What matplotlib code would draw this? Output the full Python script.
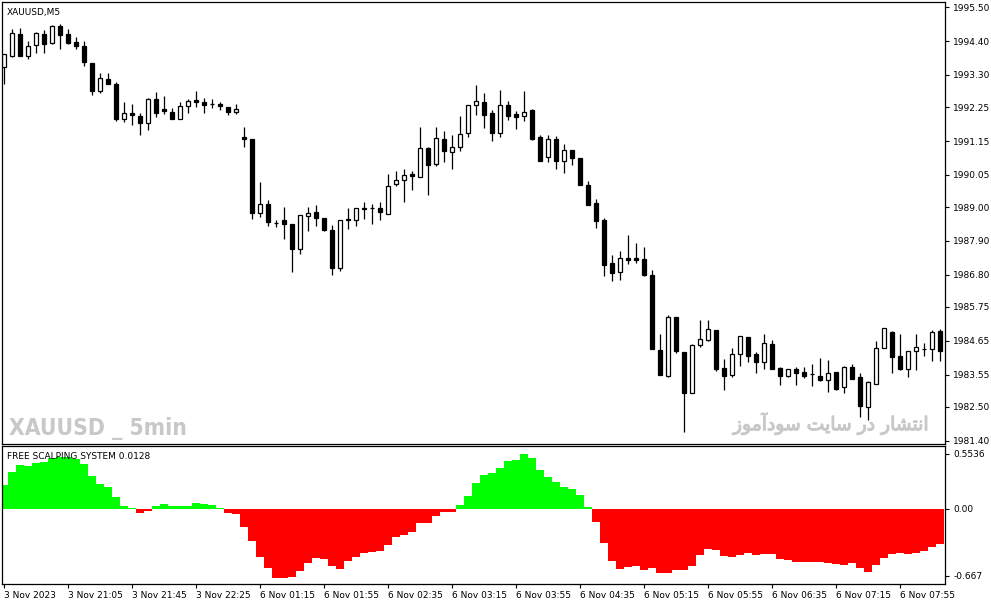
import matplotlib
matplotlib.use("Agg")
import matplotlib.pyplot as plt
import matplotlib.patheffects as pe
import numpy as np

# XAUUSD M5 candles (open, high, low, close)
opens = [1993.56, 1993.92, 1994.63, 1993.92, 1994.27, 1994.63, 1994.34, 1994.89, 1994.63, 1994.37,
         1994.24, 1993.69, 1992.78, 1993.17, 1993.00, 1991.87, 1992.06, 1991.96, 1991.74, 1992.52,
         1992.19, 1992.09, 1991.87, 1992.29, 1992.48, 1992.42, 1992.35, 1992.35, 1992.26, 1992.09,
         1991.28, 1991.22, 1988.81, 1989.10, 1988.48, 1988.58, 1988.45, 1987.64, 1988.71, 1988.84,
         1988.65, 1988.26, 1987.02, 1988.61, 1988.58, 1988.97, 1988.97, 1988.97, 1988.78, 1989.75,
         1989.88, 1990.08, 1989.98, 1990.92, 1990.40, 1991.22, 1990.79, 1990.96, 1991.41, 1992.32,
         1992.42, 1992.06, 1991.41, 1992.32, 1992.03, 1991.96, 1992.16, 1991.28, 1990.63, 1991.22,
         1990.50, 1990.86, 1990.60, 1989.72, 1989.13, 1988.58, 1987.18, 1986.89, 1987.34, 1987.34,
         1987.31, 1986.79, 1984.35, 1983.51, 1985.43, 1984.29, 1982.95, 1984.51, 1984.68, 1985.00,
         1983.77, 1983.54, 1984.22, 1984.77, 1984.22, 1983.96, 1984.55, 1983.77, 1983.51, 1983.73,
         1983.64, 1983.57, 1983.51, 1983.38, 1983.64, 1983.15, 1983.80, 1983.47, 1982.50, 1983.25,
         1984.42, 1984.94, 1984.16, 1983.73, 1984.32, 1984.38, 1984.38, 1984.97]
highs = [1993.98, 1994.79, 1994.83, 1994.40, 1994.70, 1994.76, 1994.92, 1994.96, 1994.79, 1994.53,
         1994.40, 1993.69, 1993.36, 1993.36, 1993.07, 1992.42, 1992.35, 1992.06, 1992.55, 1992.74,
         1992.61, 1992.22, 1992.42, 1992.52, 1992.78, 1992.55, 1992.52, 1992.42, 1992.26, 1992.35,
         1991.61, 1991.22, 1989.82, 1989.23, 1988.58, 1989.00, 1988.45, 1988.74, 1989.00, 1989.07,
         1988.65, 1988.42, 1988.58, 1988.97, 1988.97, 1989.17, 1989.10, 1989.17, 1990.08, 1990.17,
         1990.24, 1990.17, 1991.61, 1990.96, 1991.61, 1991.48, 1991.35, 1991.96, 1992.32, 1992.97,
         1992.71, 1992.16, 1992.81, 1992.45, 1992.13, 1992.78, 1992.19, 1991.35, 1991.35, 1991.31,
         1991.05, 1990.86, 1990.60, 1989.85, 1989.26, 1988.65, 1987.44, 1987.57, 1988.09, 1987.83,
         1987.70, 1986.95, 1984.87, 1985.49, 1985.43, 1984.29, 1984.55, 1985.33, 1985.33, 1985.00,
         1984.06, 1984.42, 1984.81, 1984.77, 1984.29, 1984.87, 1984.68, 1983.80, 1983.73, 1983.80,
         1983.80, 1983.90, 1984.09, 1984.03, 1983.64, 1983.83, 1983.90, 1983.60, 1983.34, 1984.64,
         1985.07, 1984.97, 1984.87, 1984.32, 1984.87, 1984.58, 1985.00, 1985.03]
lows = [1993.00, 1993.88, 1993.92, 1993.82, 1994.01, 1994.01, 1994.31, 1994.14, 1994.31, 1994.14,
        1993.59, 1992.65, 1992.71, 1993.00, 1991.80, 1991.77, 1991.67, 1991.35, 1991.51, 1991.93,
        1992.03, 1991.87, 1991.87, 1992.06, 1992.26, 1992.06, 1992.22, 1992.16, 1992.00, 1992.03,
        1990.96, 1988.61, 1988.68, 1988.39, 1988.35, 1987.96, 1986.89, 1987.47, 1988.22, 1988.39,
        1988.22, 1986.79, 1986.92, 1988.29, 1988.39, 1988.61, 1988.45, 1988.58, 1988.78, 1989.69,
        1989.17, 1989.56, 1989.98, 1989.39, 1990.34, 1990.47, 1990.24, 1990.83, 1991.28, 1992.00,
        1991.57, 1991.15, 1991.28, 1991.83, 1991.54, 1991.80, 1991.18, 1990.50, 1990.47, 1990.24,
        1990.11, 1990.37, 1989.72, 1989.07, 1988.32, 1986.76, 1986.60, 1986.63, 1987.15, 1987.18,
        1986.76, 1984.38, 1983.54, 1983.47, 1984.25, 1981.68, 1982.95, 1984.45, 1984.64, 1983.67,
        1983.05, 1983.47, 1983.83, 1983.96, 1983.60, 1983.73, 1983.73, 1983.21, 1983.47, 1983.21,
        1983.44, 1983.18, 1983.34, 1982.99, 1983.05, 1982.95, 1983.41, 1982.17, 1982.07, 1983.25,
        1984.42, 1983.60, 1983.70, 1983.47, 1983.70, 1984.16, 1983.99, 1983.99]
closes = [1993.98, 1994.66, 1993.92, 1994.24, 1994.66, 1994.31, 1994.89, 1994.60, 1994.34, 1994.24,
          1993.72, 1992.78, 1993.20, 1993.00, 1991.87, 1992.06, 1992.00, 1991.74, 1992.52, 1992.06,
          1992.13, 1991.87, 1992.29, 1992.45, 1992.42, 1992.32, 1992.35, 1992.29, 1992.09, 1992.19,
          1991.22, 1988.81, 1989.10, 1988.52, 1988.48, 1988.45, 1987.64, 1988.74, 1988.81, 1988.65,
          1988.26, 1987.02, 1988.58, 1988.58, 1988.97, 1988.94, 1988.97, 1988.84, 1989.69, 1989.88,
          1990.04, 1990.01, 1990.92, 1990.37, 1991.25, 1990.83, 1990.96, 1991.38, 1992.32, 1992.45,
          1992.00, 1991.41, 1992.32, 1991.96, 1991.93, 1992.09, 1991.22, 1990.50, 1991.22, 1990.50,
          1990.86, 1990.60, 1989.72, 1989.07, 1988.55, 1987.12, 1986.86, 1987.34, 1987.28, 1987.28,
          1986.79, 1984.38, 1983.54, 1985.43, 1984.32, 1982.95, 1984.51, 1984.71, 1985.03, 1983.73,
          1983.51, 1984.22, 1984.81, 1984.16, 1983.96, 1984.58, 1983.73, 1983.51, 1983.73, 1983.60,
          1983.51, 1983.57, 1983.38, 1983.60, 1983.08, 1983.80, 1983.41, 1982.53, 1983.31, 1984.42,
          1985.07, 1984.12, 1983.73, 1984.32, 1984.45, 1984.38, 1984.94, 1984.32]

# FREE SCALPING SYSTEM histogram
fss = [0.24, 0.37, 0.44, 0.43, 0.46, 0.47, 0.51, 0.52, 0.52, 0.50,
       0.45, 0.33, 0.25, 0.22, 0.12, 0.03, 0.01, -0.037, -0.023, 0.03,
       0.05, 0.03, 0.03, 0.03, 0.06, 0.05, 0.045, 0.015, -0.037, -0.05,
       -0.177, -0.317, -0.477, -0.587, -0.687, -0.687, -0.677, -0.617, -0.537, -0.487,
       -0.497, -0.567, -0.597, -0.517, -0.477, -0.437, -0.427, -0.417, -0.357, -0.277,
       -0.257, -0.227, -0.137, -0.137, -0.067, -0.027, -0.027, 0.043, 0.13, 0.26,
       0.34, 0.36, 0.41, 0.48, 0.49, 0.55, 0.51, 0.39, 0.32, 0.27,
       0.22, 0.20, 0.14, 0.02, -0.127, -0.337, -0.517, -0.597, -0.577, -0.573,
       -0.607, -0.587, -0.637, -0.637, -0.607, -0.607, -0.567, -0.457, -0.397, -0.407,
       -0.47, -0.477, -0.46, -0.44, -0.457, -0.45, -0.45, -0.497, -0.507, -0.527,
       -0.527, -0.527, -0.527, -0.54, -0.547, -0.557, -0.537, -0.587, -0.627, -0.557,
       -0.487, -0.447, -0.437, -0.447, -0.437, -0.417, -0.377, -0.353]

time_labels = ["3 Nov 2023", "3 Nov 21:05", "3 Nov 21:45", "3 Nov 22:25", "6 Nov 01:15",
               "6 Nov 01:55", "6 Nov 02:35", "6 Nov 03:15", "6 Nov 03:55", "6 Nov 04:35",
               "6 Nov 05:15", "6 Nov 05:55", "6 Nov 06:35", "6 Nov 07:15", "6 Nov 07:55"]
price_ticks = [1995.50, 1994.40, 1993.30, 1992.25, 1991.15, 1990.05, 1989.00,
               1987.90, 1986.80, 1985.75, 1984.65, 1983.55, 1982.50, 1981.40]
ind_ticks = [0.5536, 0.0, -0.667]

opens, highs, lows, closes, fss = map(np.array, (opens, highs, lows, closes, fss))
x = np.arange(len(opens))

W, H = 991, 605
fig = plt.figure(figsize=(W / 100, H / 100), dpi=100)
left, right = 1.5 / W, 945 / W
ax = fig.add_axes([left, 1 - 444 / H, right - left, (444 - 1.5) / H])
ax2 = fig.add_axes([left, 1 - 584 / H, right - left, (584 - 446) / H])

lbl = dict(fontsize=6.5, family="DejaVu Sans", color="black")

# candles
up = closes >= opens
ax.vlines(x, lows, highs, color="black", lw=0.9, zorder=1)
ax.bar(x[up], closes[up] - opens[up], bottom=opens[up], width=0.55,
       facecolor="white", edgecolor="black", lw=0.9, zorder=2)
ax.bar(x[~up], closes[~up] - opens[~up], bottom=opens[~up], width=0.55,
       facecolor="black", edgecolor="black", lw=0.9, zorder=2)

ax.set_xlim(-0.31, 117.63)
ax.set_ylim(1981.29, 1995.69)
ax.yaxis.tick_right()
ax.set_yticks(price_ticks)
ax.set_yticklabels([f"{v:.2f}" for v in price_ticks], **lbl)
ax.set_xticks([])
ax.tick_params(axis="y", direction="out", length=3, width=0.8, pad=3)

ax.text(0.006, 0.986, "XAUUSD,M5", transform=ax.transAxes, va="top", ha="left", **lbl)
ax.text(0.008, 0.02, "XAUUSD _ 5min", transform=ax.transAxes, va="baseline", ha="left",
        fontsize=16.4, fontweight="bold", fontstretch="condensed", color="#c8c8c8",
        family="DejaVu Sans")
# "انتشار در سایت سودآموز" written in shaped (presentation) forms, visual order
fa = ("\ufeaf\ufeee\ufee3\ufe81\ufea9\ufeee\ufeb3 \ufe96\ufbfe\ufe8e\ufeb3 "
      "\ufead\ufea9 \ufead\ufe8e\ufeb8\ufe98\ufee7\ufe8d")
ax.text(0.983, 0.02, fa, transform=ax.transAxes, va="bottom", ha="right",
        fontsize=13.5, color="#c8c8c8", family=["DejaVu Sans", "Noto Sans"],
        path_effects=[pe.withStroke(linewidth=0.8, foreground="#c8c8c8")])

# indicator histogram
cols = np.where(fss >= 0, "#00ff00", "#ff0000")
ax2.bar(x, fss, width=1.0, color=cols, lw=0)
ax2.set_xlim(-0.31, 117.63)
ax2.set_ylim(-0.75, 0.63)
ax2.yaxis.tick_right()
ax2.set_yticks(ind_ticks)
ax2.set_yticklabels(["0.5536", "0.00", "-0.667"], **lbl)
ax2.tick_params(axis="y", direction="out", length=3, width=0.8, pad=3)
ax2.set_xticks(x[::8])
ax2.set_xticklabels(time_labels, ha="left", **lbl)
ax2.tick_params(axis="x", direction="out", length=3, width=0.8, pad=2)
ax2.text(0.006, 0.96, "FREE SCALPING SYSTEM 0.0128", transform=ax2.transAxes,
         va="top", ha="left", **lbl)

for a in (ax, ax2):
    for s in a.spines.values():
        s.set_linewidth(0.9)

fig.savefig("out.png", dpi=100)
